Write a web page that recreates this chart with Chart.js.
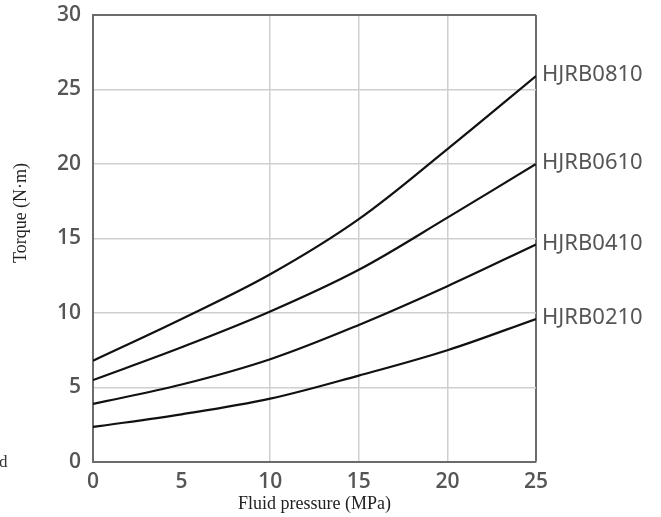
<!DOCTYPE html>
<html>
<head>
<meta charset="utf-8">
<script src="https://cdn.jsdelivr.net/npm/chart.js@4.4.1/dist/chart.umd.min.js"></script>
<style>
  html, body { margin: 0; padding: 0; background: #fff; }
  #wrap { width: 661px; height: 517px; position: relative; }
</style>
</head>
<body>
<div id="wrap"><canvas id="torqueChart"></canvas></div>
<script>
// --- DATOS ---
const presiones = [0, 5, 10, 15, 20, 25];
const modelos = ['HJRB0810', 'HJRB0610', 'HJRB0410', 'HJRB0210'];
const parHJRB0810 = [6.8, 9.6, 12.6, 16.3, 21.0, 25.9];
const parHJRB0610 = [5.5, 7.7, 10.1, 12.9, 16.4, 20.0];
const parHJRB0410 = [3.9, 5.2, 6.9, 9.2, 11.8, 14.6];
const parHJRB0210 = [2.35, 3.2, 4.25, 5.8, 7.5, 9.6];
const ticksX = [0, 5, 10, 15, 20, 25];
const ticksY = [0, 5, 10, 15, 20, 25, 30];

const series = [parHJRB0810, parHJRB0610, parHJRB0410, parHJRB0210];

const GRIS_TEXTO = '#555555';
const GRIS_MARCO = '#6b6b6b';
const GRIS_REJILLA = '#cfcfcf';
const FUENTE_SERIF = '"Liberation Serif", serif';

// etiquetas de cada curva al final de la línea + título del eje Y
const etiquetasFinal = {
    id: 'etiquetasFinal',
    afterDatasetsDraw(chart) {
        const ctx = chart.ctx;
        ctx.save();
        ctx.font = '22px "Noto Sans", sans-serif';
        ctx.fillStyle = GRIS_TEXTO;
        ctx.textAlign = 'left';
        ctx.textBaseline = 'middle';
        chart.data.datasets.forEach((ds, i) => {
            const pts = chart.getDatasetMeta(i).data;
            const p = pts[pts.length - 1];
            ctx.fillText(ds.label, p.x + 6, p.y - 1);
        });

        // título vertical, algo por encima del centro
        ctx.font = '18px ' + FUENTE_SERIF;
        ctx.fillStyle = '#222';
        ctx.textAlign = 'center';
        ctx.translate(21, 213);
        ctx.rotate(-Math.PI / 2);
        ctx.fillText('Torque (N·m)', 0, 0);
        ctx.restore();

        // resto de texto en el borde izquierdo
        ctx.save();
        ctx.font = '17px ' + FUENTE_SERIF;
        ctx.fillStyle = '#333';
        ctx.textBaseline = 'alphabetic';
        ctx.fillText('d', -1, 467);
        ctx.restore();
    }
};

const ctx = document.getElementById('torqueChart').getContext('2d');
new Chart(ctx, {
    type: 'line',
    data: {
        datasets: series.map((vals, i) => ({
            label: modelos[i],
            data: presiones.map((x, j) => ({ x: x, y: vals[j] })),
            borderColor: '#111111',
            borderWidth: 2.2,
            pointRadius: 0,
            fill: false,
            tension: 0.35
        }))
    },
    options: {
        responsive: true,
        maintainAspectRatio: false,
        animation: false,
        layout: { padding: { left: 0, right: 125, top: 15, bottom: 0 } },
        plugins: {
            legend: { display: false },
            tooltip: { enabled: false }
        },
        scales: {
            x: {
                type: 'linear',
                min: 0, max: 25,
                afterBuildTicks: (s) => { s.ticks = ticksX.map(v => ({ value: v })); },
                afterFit: (s) => { s.height = 55; s.paddingLeft = 0; s.paddingRight = 0; },
                grid: {
                    drawTicks: false,
                    color: (c) => c.tick.value === 5 || c.tick.value === 0 ? 'rgba(0,0,0,0)' : (c.tick.value === 25 ? GRIS_MARCO : GRIS_REJILLA),
                    lineWidth: (c) => c.tick.value === 25 ? 2 : 1.5
                },
                border: { color: GRIS_MARCO, width: 2 },
                ticks: {
                    color: GRIS_TEXTO,
                    padding: 7,
                    font: { family: '"Open Sans", sans-serif', size: 21, weight: '600' }
                },
                title: {
                    display: true,
                    text: 'Fluid pressure (MPa)',
                    color: '#222',
                    font: { family: FUENTE_SERIF, size: 18 },
                    padding: { top: 0, bottom: 2 }
                }
            },
            y: {
                min: 0, max: 30,
                afterBuildTicks: (s) => { s.ticks = ticksY.map(v => ({ value: v })); },
                afterFit: (s) => { s.width = 93; s.paddingTop = 0; s.paddingBottom = 0; },
                grid: {
                    drawTicks: false,
                    color: (c) => c.tick.value === 0 ? 'rgba(0,0,0,0)' : (c.tick.value === 30 ? GRIS_MARCO : GRIS_REJILLA),
                    lineWidth: (c) => c.tick.value === 30 ? 2 : 1.5
                },
                border: { color: GRIS_MARCO, width: 2 },
                ticks: {
                    color: GRIS_TEXTO,
                    padding: 12,
                    font: { family: '"Open Sans", sans-serif', size: 21, weight: '600' }
                }
            }
        }
    },
    plugins: [etiquetasFinal]
});
</script>
</body>
</html>
